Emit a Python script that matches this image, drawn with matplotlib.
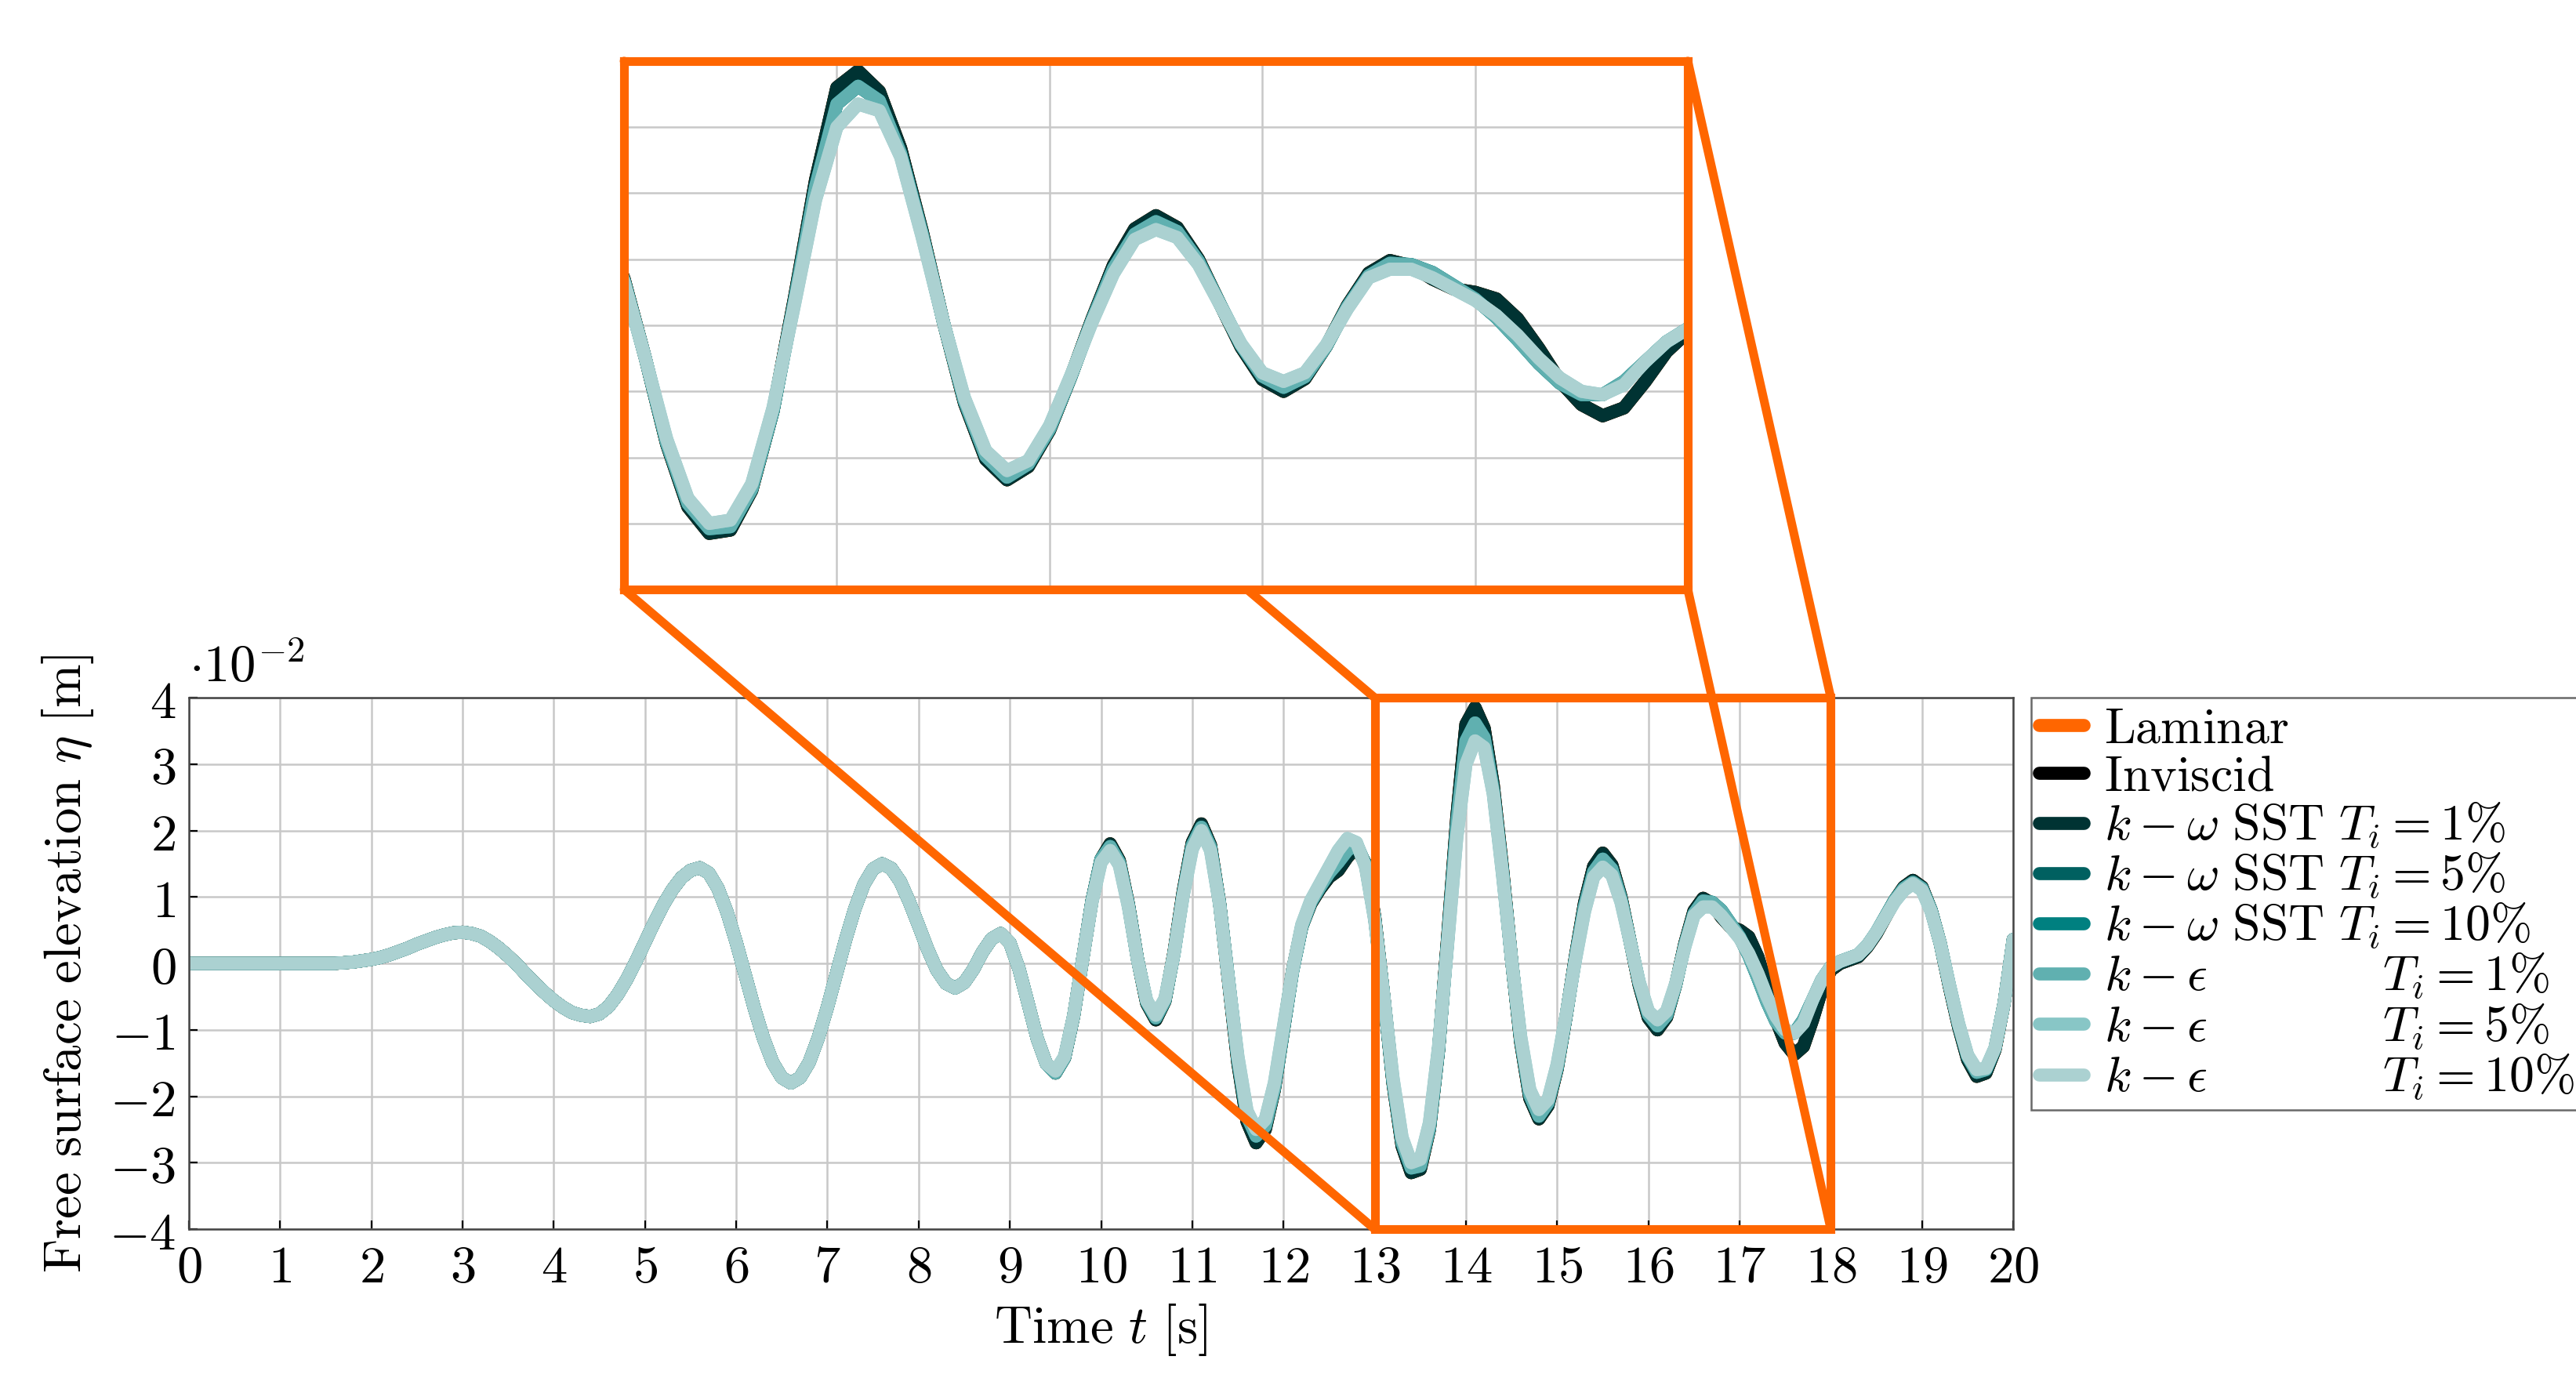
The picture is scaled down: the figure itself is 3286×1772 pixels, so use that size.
import numpy as np
import matplotlib
matplotlib.use("Agg")
import matplotlib.pyplot as plt
from matplotlib.patches import Rectangle, ConnectionPatch

plt.rcParams["mathtext.fontset"] = "cm"
plt.rcParams["font.family"] = "serif"

t = np.linspace(0, 20, 201)

# free surface elevation (x 1e-2 m) at 0.1 s steps
eta_dark = [
    0, 0, 0, 0, 0, 0, 0, 0, 0, 0, 0, 0, 0, 0, 0, 0, 0,
    .01, .02, .04, .06, .09, .13, .18, .23, .29, .34, .39, .43, .46,
    .47, .45, .41, .33, .23, .11, -.02, -.17, -.31, -.44,
    -.56, -.66, -.74, -.78, -.80, -.76, -.65, -.47, -.24, .03,
    .32, .61, .88, 1.11, 1.29, 1.40, 1.44, 1.36, 1.13, .77,
    .32, -.18, -.68, -1.13, -1.49, -1.72, -1.80, -1.72, -1.49, -1.12,
    -.66, -.15, .36, .82, 1.19, 1.42, 1.50, 1.43, 1.23, .92,
    .57, .21, -.10, -.30, -.37, -.29, -.09, .17, .37, .45,
    .31, -.08, -.60, -1.13, -1.51, -1.65, -1.42, -.79, .08, .94,
    1.57, 1.80, 1.55, .89, .06, -.60, -.85, -.57, .17, 1.08,
    1.82, 2.10, 1.78, .90, -.30, -1.50, -2.38, -2.70, -2.50, -1.90,
    -1.00, -.10, .55, .90, 1.12, 1.30, 1.40, 1.60, 1.75, 1.50,
    .70, -.50, -1.80, -2.75, -3.15, -3.10, -2.50, -1.30, .40, 2.20,
    3.60, 3.85, 3.54, 2.68, 1.44, .06, -1.18, -2.03, -2.34, -2.14,
    -1.59, -.78, .10, .91, 1.46, 1.66, 1.48, 1.00, .33, -.33,
    -.82, -1.00, -.81, -.32, .30, .79, .98, .90, .70, .55,
    .50, .40, .10, -.35, -.85, -1.20, -1.37, -1.25, -.85, -.40,
    -.10, .00, .05, .10, .25, .45, .70, .95, 1.15, 1.25,
    1.15, .80, .30, -.35, -.95, -1.45, -1.70, -1.65, -1.30, -.60,
    .36,
]

eta_mid = [
    0, 0, 0, 0, 0, 0, 0, 0, 0, 0, 0, 0, 0, 0, 0, 0, 0,
    .01, .02, .04, .06, .09, .13, .18, .23, .29, .34, .39, .43, .46,
    .47, .45, .41, .33, .23, .11, -.02, -.17, -.31, -.44,
    -.56, -.66, -.74, -.78, -.80, -.76, -.65, -.47, -.24, .03,
    .32, .61, .88, 1.11, 1.29, 1.40, 1.44, 1.36, 1.13, .77,
    .32, -.18, -.68, -1.13, -1.49, -1.72, -1.80, -1.72, -1.49, -1.12,
    -.66, -.15, .36, .82, 1.19, 1.42, 1.50, 1.43, 1.23, .92,
    .57, .21, -.10, -.30, -.37, -.29, -.09, .17, .37, .45,
    .31, -.08, -.60, -1.13, -1.51, -1.65, -1.42, -.79, .08, .94,
    1.57, 1.76, 1.52, .88, .06, -.58, -.82, -.56, .15, 1.05,
    1.78, 2.05, 1.75, .90, -.28, -1.45, -2.30, -2.60, -2.45, -1.88,
    -1.00, -.12, .55, .92, 1.15, 1.36, 1.52, 1.70, 1.80, 1.48,
    .68, -.50, -1.78, -2.70, -3.08, -3.05, -2.48, -1.30, .35, 2.10,
    3.35, 3.62, 3.40, 2.60, 1.40, .06, -1.15, -1.98, -2.30, -2.10,
    -1.57, -.78, .08, .86, 1.38, 1.57, 1.42, .97, .33, -.30,
    -.77, -.94, -.78, -.32, .28, .75, .94, .92, .80, .60,
    .40, .12, -.22, -.58, -.88, -1.05, -1.05, -.85, -.55, -.25,
    -.05, .03, .08, .13, .27, .47, .71, .95, 1.13, 1.22,
    1.13, .80, .30, -.33, -.92, -1.40, -1.64, -1.60, -1.28, -.60,
    .36,
]

eta_light = [
    0, 0, 0, 0, 0, 0, 0, 0, 0, 0, 0, 0, 0, 0, 0, 0, 0,
    .01, .02, .04, .06, .09, .13, .18, .23, .29, .34, .39, .43, .46,
    .47, .45, .41, .33, .23, .11, -.02, -.17, -.31, -.44,
    -.56, -.66, -.74, -.78, -.80, -.76, -.65, -.47, -.24, .03,
    .32, .61, .88, 1.11, 1.29, 1.40, 1.44, 1.36, 1.13, .77,
    .32, -.18, -.68, -1.13, -1.49, -1.72, -1.80, -1.72, -1.49, -1.12,
    -.66, -.15, .36, .82, 1.19, 1.42, 1.50, 1.43, 1.23, .92,
    .57, .21, -.10, -.30, -.37, -.29, -.09, .17, .37, .45,
    .31, -.08, -.60, -1.13, -1.51, -1.62, -1.40, -.78, .08, .92,
    1.52, 1.70, 1.48, .85, .05, -.56, -.78, -.53, .15, 1.02,
    1.72, 2.00, 1.70, .88, -.28, -1.40, -2.22, -2.50, -2.35, -1.80,
    -.95, -.10, .58, .95, 1.20, 1.45, 1.70, 1.88, 1.82, 1.45,
    .65, -.50, -1.72, -2.62, -3.00, -2.95, -2.40, -1.25, .30, 1.90,
    3.00, 3.35, 3.25, 2.55, 1.35, .06, -1.10, -1.90, -2.20, -2.05,
    -1.52, -.76, .05, .78, 1.30, 1.45, 1.33, .92, .32, -.28,
    -.72, -.85, -.72, -.30, .25, .72, .85, .85, .72, .55,
    .38, .15, -.15, -.50, -.80, -1.00, -1.05, -.90, -.55, -.25,
    -.05, .03, .08, .13, .27, .47, .70, .93, 1.10, 1.20,
    1.10, .78, .30, -.32, -.90, -1.38, -1.60, -1.58, -1.27, -.60,
    .36,
]

labels = [
    r"$\mathrm{Laminar}$",
    r"$\mathrm{Inviscid}$",
    r"$k-\omega\ \mathrm{SST}\ T_i=1\%$",
    r"$k-\omega\ \mathrm{SST}\ T_i=5\%$",
    r"$k-\omega\ \mathrm{SST}\ T_i=10\%$",
    r"$k-\epsilon\qquad\quad\ \ \ T_i=1\%$",
    r"$k-\epsilon\qquad\quad\ \ \ T_i=5\%$",
    r"$k-\epsilon\qquad\quad\ \ \ T_i=10\%$",
]
colors = ["#ff6600", "#000000", "#003333", "#006060", "#008080",
          "#60b0b0", "#88c6c6", "#abd1d1"]
series = [eta_dark, eta_dark, eta_dark, eta_mid, eta_mid, eta_mid,
          eta_light, eta_light]

orange = "#ff6600"
fs = 24
fig = plt.figure(figsize=(16.435, 8.86), dpi=200)
ax = fig.add_axes([0.0733, 0.1151, 0.708, 0.3826])
axins = fig.add_axes([0.2422, 0.5756, 0.4128, 0.3804], zorder=5)

for a in (ax, axins):
    for y, c, lab in zip(series, colors, labels):
        a.plot(t, y, color=c, lw=6, label=lab, solid_capstyle="round",
               solid_joinstyle="round")
    a.grid(True, color="#c8c8c8", lw=0.9)
    a.set_axisbelow(True)

ax.set_xlim(0, 20)
ax.set_ylim(-4, 4)
ax.set_xticks(range(0, 21))
ax.set_xticklabels([f"${v}$" for v in range(0, 21)], fontsize=fs)
ax.set_yticks(range(-4, 5))
ax.set_yticklabels([f"${v}$" for v in range(-4, 5)], fontsize=fs)
ax.tick_params(direction="in", length=4, width=0.8, pad=6)
for s in ax.spines.values():
    s.set_color("#444444")
    s.set_linewidth(0.9)
ax.set_xlabel(r"$\mathrm{Time}\ t\ \mathrm{[s]}$", fontsize=fs, labelpad=4)
ax.set_ylabel(r"$\mathrm{Free\ surface\ elevation}\ \eta\ \mathrm{[m]}$",
              fontsize=fs, labelpad=6)
ax.text(0.0, 1.01, r"$\cdot 10^{-2}$", transform=ax.transAxes, fontsize=fs,
        ha="left", va="bottom")

leg = ax.legend(loc="upper left", bbox_to_anchor=(1.01, 1.0), fontsize=23,
                handlelength=0.9, handletextpad=0.4, labelspacing=0.0,
                borderpad=0.15, borderaxespad=0, frameon=True, fancybox=False,
                edgecolor="#444444")
leg.get_frame().set_linewidth(0.9)

ax.add_patch(Rectangle((13, -4), 5, 8, fill=False, edgecolor=orange, lw=4,
                       clip_on=False, zorder=6))

axins.set_xlim(13, 18)
axins.set_ylim(-4, 4)
axins.set_xticks(range(13, 19))
axins.set_yticks(range(-4, 5))
axins.set_xticklabels([])
axins.set_yticklabels([])
axins.tick_params(length=0)
for s in axins.spines.values():
    s.set_color(orange)
    s.set_linewidth(4)

for xy in [(13, -4), (13, 4), (18, 4), (18, -4)]:
    con = ConnectionPatch(xyA=xy, coordsA=ax.transData, xyB=xy,
                          coordsB=axins.transData, color=orange, lw=4,
                          zorder=3)
    fig.add_artist(con)

fig.savefig("out.png", dpi=200)
